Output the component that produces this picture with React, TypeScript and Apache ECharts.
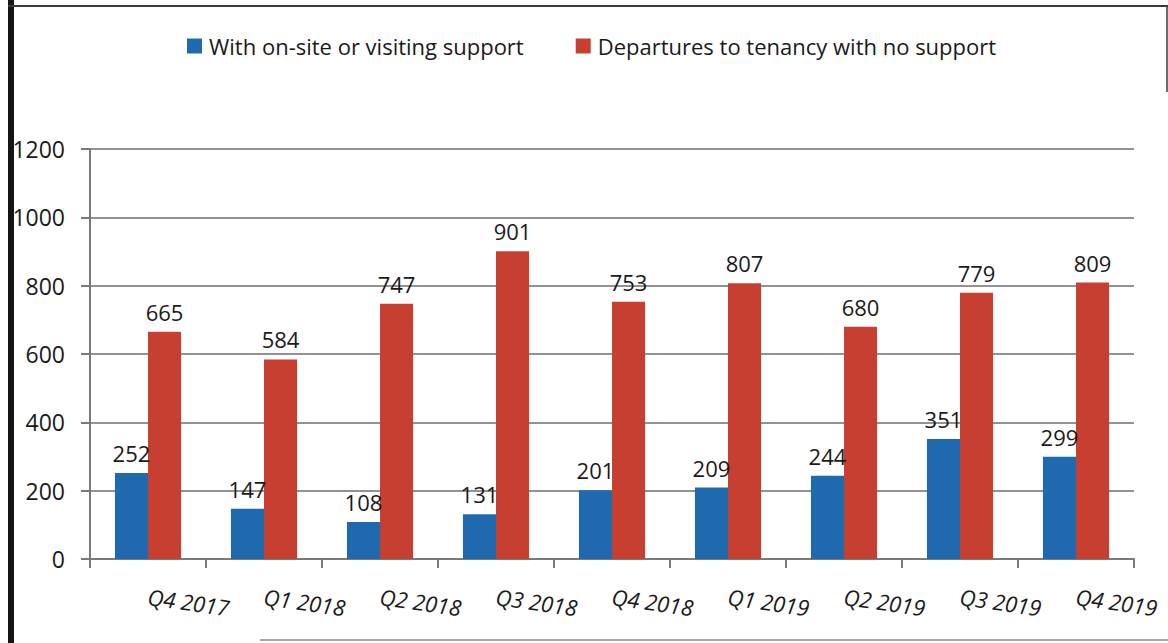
import React, { useEffect, useRef } from "react";
import * as echarts from "echarts";

const categories = ["Q4 2017", "Q1 2018", "Q2 2018", "Q3 2018", "Q4 2018", "Q1 2019", "Q2 2019", "Q3 2019", "Q4 2019"];
const withSupport = [252, 147, 108, 131, 201, 209, 244, 351, 299];
const noSupport = [665, 584, 747, 901, 753, 807, 680, 779, 809];
const seriesNames = ["With on-site or visiting support", "Departures to tenancy with no support"];
const yTicks = { min: 0, max: 1200, interval: 200 };

const FONT = "'Open Sans', 'Noto Sans', sans-serif";

export default function App() {
  const ref = useRef<HTMLDivElement>(null);
  useEffect(() => {
    if (!ref.current) return;
    const chart = echarts.init(ref.current, undefined, { renderer: "svg" });
    const labelBase = {
      show: true,
      position: "top" as const,
      distance: 9,
      color: "#1a1a1a",
      fontSize: 22,
      fontFamily: FONT,
    };
    chart.setOption({
      animation: false,
      backgroundColor: "#ffffff",
      textStyle: { fontFamily: FONT },
      legend: {
        top: 30,
        left: 182,
        itemWidth: 15,
        itemHeight: 15,
        itemGap: 52,
        icon: "rect",
        textStyle: { fontSize: 22, color: "#1a1a1a", fontFamily: FONT, padding: [0, 0, 0, 2] },
        data: seriesNames,
      },
      grid: { left: 90, right: 34, top: 149, bottom: 84, containLabel: false },
      xAxis: {
        type: "category",
        data: categories,
        axisLine: { lineStyle: { color: "#7a7a7a", width: 2 } },
        axisTick: { show: true, length: 9, lineStyle: { color: "#7a7a7a", width: 2 } },
        axisLabel: {
          rotate: -8,
          margin: 37,
          fontSize: 22,
          fontStyle: "italic",
          color: "#1a1a1a",
          fontFamily: FONT,
        },
      },
      yAxis: {
        type: "value",
        min: yTicks.min,
        max: yTicks.max,
        interval: yTicks.interval,
        axisLine: { show: true, lineStyle: { color: "#7a7a7a", width: 2 } },
        axisTick: { show: true, length: 9, lineStyle: { color: "#7a7a7a", width: 2 } },
        splitLine: { lineStyle: { color: "#6e6e6e", width: 1.5 } },
        axisLabel: {
          margin: 25,
          fontSize: 23,
          color: "#1a1a1a",
          fontFamily: FONT,
          formatter: (v: number) => String(v),
        },
      },
      series: [
        {
          name: seriesNames[0],
          type: "bar",
          data: withSupport,
          barGap: "0%",
          barCategoryGap: "43%",
          itemStyle: { color: "#1f6aae" },
          label: labelBase,
        },
        {
          name: seriesNames[1],
          type: "bar",
          data: noSupport,
          itemStyle: { color: "#c63f30" },
          label: labelBase,
        },
      ],
      graphic: [
        { type: "rect", shape: { x: 8, y: 0, width: 6, height: 643 }, style: { fill: "#151515" } },
        { type: "line", shape: { x1: 8, y1: 6, x2: 1168, y2: 6 }, style: { stroke: "#3a3a3a", lineWidth: 2 } },
        { type: "line", shape: { x1: 1167, y1: 6, x2: 1167, y2: 92 }, style: { stroke: "#3a3a3a", lineWidth: 1.5 } },
        { type: "line", shape: { x1: 260, y1: 640, x2: 1168, y2: 640 }, style: { stroke: "#8a8a8a", lineWidth: 1.5 } },
      ],
    });
    return () => chart.dispose();
  }, []);
  return (
    <div
      ref={ref}
      style={{ position: "fixed", left: 0, top: 0, width: 1168, height: 643, background: "#fff" }}
    />
  );
}
